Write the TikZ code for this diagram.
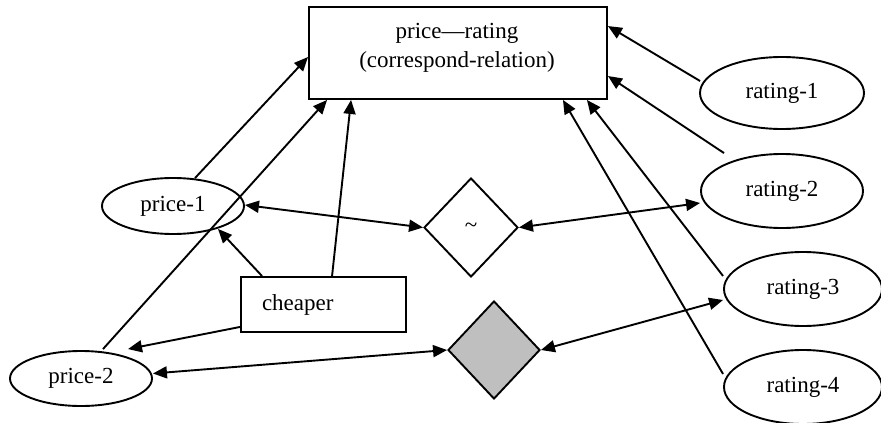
\documentclass[tikz,border=0pt]{standalone}
\usepackage{fontspec}
\setmainfont{Liberation Serif}
\usetikzlibrary{shapes.geometric,arrows.meta,calc}
\begin{document}
\begin{tikzpicture}[x=1pt,y=-1pt,
  every node/.style={font=\fontsize{23}{29}\selectfont},
  shapeline/.style={draw=black,line width=1.9pt},
  conn/.style={line width=1.9pt,-{Triangle[length=14pt,width=12pt]}},
  biconn/.style={line width=1.9pt,{Triangle[length=14pt,width=12pt]}-{Triangle[length=14pt,width=12pt]}},
  oval/.style={shapeline,ellipse,inner sep=0pt},
  box/.style={shapeline,rectangle,inner sep=0pt},
  rhomb/.style={shapeline,diamond,inner sep=0pt}]
\useasboundingbox (0,0) rectangle (881,423);
% nodes
\node[box,minimum width=298pt,minimum height=92pt] (main) at (458,53) {};
\node[align=center,inner sep=0pt] (maintext) at (457,48) {price—rating\\(correspond-relation)};
\node[oval,minimum width=142pt,minimum height=56pt] (p1) at (173,206) {price-1};
\node[oval,minimum width=142pt,minimum height=55pt] (p2) at (81,378.5) {price-2};
\node[box,minimum width=165pt,minimum height=55pt,text width=123pt,align=left,inner xsep=21pt] (cheaper) at (323.5,304.5) {cheaper};
\node[rhomb,minimum width=94pt,minimum height=99pt] (sim) at (471,227.5) {\textasciitilde};
\node[rhomb,fill=black!25,minimum width=92pt,minimum height=98pt] (simb) at (494,350) {};
\node[oval,minimum width=164pt,minimum height=72pt] (r1) at (782,93) {rating-1};
\node[oval,minimum width=162pt,minimum height=74pt] (r2) at (782,191) {rating-2};
\node[oval,minimum width=158pt,minimum height=74pt] (r3) at (803,289) {rating-3};
\node[oval,minimum width=158pt,minimum height=74pt] (r4) at (803,387) {rating-4};
% connectors
\draw[conn] ($(p1.north)+(22,1)$) -- ($(main.west)+(0,4)$);
\draw[conn] ($(p2.north)+(22,-1)$) -- ($(main.south west)+(19,0)$);
\draw[conn] ($(cheaper.north west)+(92,0)$) -- ($(main.south west)+(43,0)$);
\draw[conn] ($(cheaper.north west)+(22,0)$) -- ($(p1.south)+(45,-6)$);
\draw[conn] ($(cheaper.south west)+(0,-6)$) -- ($(p2.north)+(47,-1)$);
\draw[biconn] ($(p1.east)+(0,-1)$) -- (sim.west);
\draw[biconn] (sim.east) -- ($(r2.west)+(0,12)$);
\draw[biconn] ($(p2.east)+(0,-5)$) -- (simb.west);
\draw[biconn] (simb.east) -- ($(r3.west)+(0,11)$);
\draw[conn] ($(r1.west)+(1,-12)$) -- ($(main.north east)+(0,20)$);
\draw[conn] ($(r2.north)+(-58,0)$) -- ($(main.east)+(0,23)$);
\draw[conn] ($(r3.west)+(0,-13)$) -- ($(main.south east)+(-21,0)$);
\draw[conn] ($(r4.west)+(0,-13)$) -- ($(main.south east)+(-45,0)$);
\end{tikzpicture}
\end{document}
